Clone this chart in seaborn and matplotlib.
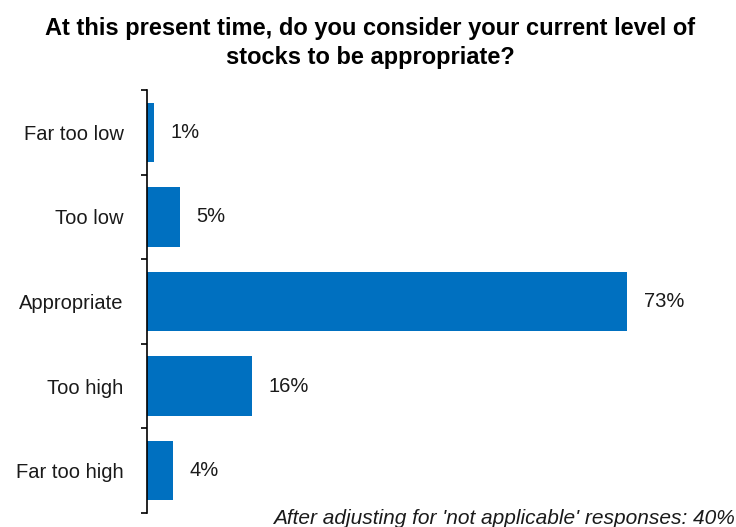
import matplotlib
matplotlib.use("Agg")
import matplotlib.pyplot as plt
import seaborn as sns
import pandas as pd
import numpy as np

categories = ["Far too low", "Too low", "Appropriate", "Too high", "Far too high"]
values = [1, 5, 73, 16, 4]
value_labels = ["1%", "5%", "73%", "16%", "4%"]
title = "At this present time, do you consider your current level of\nstocks to be appropriate?"
footnote = "After adjusting for 'not applicable' responses: 40%"

sns.set_theme(style="white")
plt.rcParams['font.family'] = ['Liberation Sans', 'DejaVu Sans']

df = pd.DataFrame({"category": categories, "value": values})

fig = plt.figure(figsize=(7.36, 5.27), dpi=100)
ax = fig.add_axes([147/736, 1 - 513/527, 526/736, (513 - 90)/527])

sns.barplot(data=df, x="value", y="category", order=categories, color="#0070C0",
            saturation=1, width=0.7, orient="h", ax=ax, edgecolor="none")

ax.set_xlim(0, 80)
ax.set_ylim(len(categories) - 0.5, -0.5)
ax.set_xlabel("")
ax.set_ylabel("")
ax.set_xticks([])
for s in ["top", "right", "bottom"]:
    ax.spines[s].set_visible(False)
ax.spines["left"].set_color("black")
ax.spines["left"].set_linewidth(1.2)

ax.set_yticks(range(len(categories)))
ax.set_yticklabels(categories, fontsize=14.5, color="#1a1a1a")
ax.tick_params(axis="y", which="major", length=0, pad=17)
ax.set_yticks(np.arange(-0.5, len(categories), 1), minor=True)
ax.tick_params(axis="y", which="minor", length=4.5, width=1.2, direction="out",
               color="black", left=True, right=False)

ax.bar_label(ax.containers[0], labels=value_labels, padding=12, fontsize=14.5, color="#1a1a1a")

fig.text(0.503, 0.968, title, ha="center", va="top", fontsize=17, fontweight="bold",
         linespacing=1.35, color="black")
fig.text(0.999, 1 - 524/527, footnote, ha="right", va="baseline", fontsize=15,
         style="italic", color="#1a1a1a")

fig.savefig("out.png", dpi=100)
